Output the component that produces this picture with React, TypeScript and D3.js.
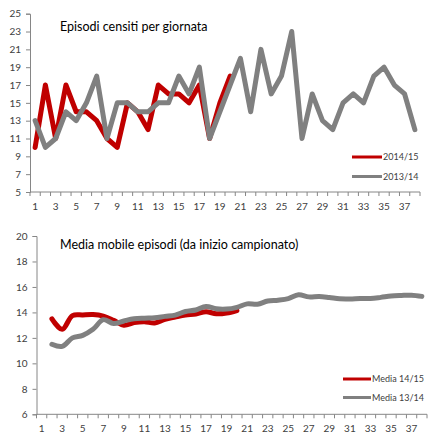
import React, { useEffect, useRef } from 'react';
import * as d3 from 'd3';

// giornate 1..38
const giornate = d3.range(1, 39);
const giornateLabels = giornate.filter(g => g % 2 === 1);

// episodi per giornata
const episodi1415 = [10, 17, 11, 17, 14, 14, 13, 11, 10, 15, 14, 12, 17, 16, 16, 15, 17, 11, 15, 18];
const episodi1314 = [13, 10, 11, 14, 13, 15, 18, 11, 15, 15, 14, 14, 15, 15, 18, 16, 19, 11, 14, 17,
  20, 14, 21, 16, 18, 23, 11, 16, 13, 12, 15, 16, 15, 18, 19, 17, 16, 12];

// media mobile (dalla giornata 2)
const media1415 = [13.5, 12.67, 13.75, 13.8, 13.83, 13.71, 13.38, 13.0, 13.2, 13.27, 13.17, 13.46,
  13.64, 13.8, 13.88, 14.06, 13.89, 13.95, 14.15];
const media1314 = [11.5, 11.33, 12.0, 12.2, 12.67, 13.43, 13.13, 13.33, 13.5, 13.55, 13.58, 13.69,
  13.79, 14.07, 14.19, 14.47, 14.28, 14.26, 14.4, 14.67, 14.64, 14.9, 14.96, 15.08, 15.38, 15.22,
  15.25, 15.17, 15.07, 15.06, 15.09, 15.09, 15.18, 15.29, 15.33, 15.35, 15.26];

const topTicks = [5, 7, 9, 11, 13, 15, 17, 19, 21, 23, 25];
const bottomTicks = [6, 8, 10, 12, 14, 16, 18, 20];

const RED = '#c00000';
const GREY = '#808080';
const AXIS = '#868686';
const TEXT = '#404040';
const FONT = 'Lato, "Open Sans", sans-serif';

const App = () => {
  const ref = useRef(null);

  useEffect(() => {
    const svg = d3.select(ref.current);
    svg.selectAll('*').remove();

    const drawPanel = (opts) => {
      const { left, right, top, bottom, yMin, yMax, yTicks, series, title, titleX, titleY, legend, curve } = opts;
      const g = svg.append('g');

      const x = d3.scaleBand().domain(giornate).range([left, right]);
      const xEdge = d3.scaleLinear().domain([0, giornate.length]).range([left, right]);
      const y = d3.scaleLinear().domain([yMin, yMax]).range([bottom, top]);

      // y axis
      const ya = g.append('g')
        .attr('transform', `translate(${left},0)`)
        .call(d3.axisLeft(y).tickValues(yTicks).tickSize(4).tickPadding(5));
      ya.select('.domain').attr('stroke', AXIS);
      ya.selectAll('.tick line').attr('stroke', AXIS);
      ya.selectAll('.tick text').attr('fill', TEXT).style('font-family', FONT).style('font-size', '10px');

      // x axis line + tick marks between categories
      g.append('line')
        .attr('x1', left).attr('x2', right).attr('y1', bottom).attr('y2', bottom)
        .attr('stroke', AXIS);
      g.selectAll('line.xt')
        .data(d3.range(0, giornate.length + 1))
        .join('line')
        .attr('class', 'xt')
        .attr('x1', d => xEdge(d)).attr('x2', d => xEdge(d))
        .attr('y1', bottom).attr('y2', bottom + 4)
        .attr('stroke', AXIS);
      g.selectAll('text.xl')
        .data(giornateLabels)
        .join('text')
        .attr('class', 'xl')
        .attr('x', d => x(d) + x.bandwidth() / 2)
        .attr('y', bottom + 18)
        .attr('text-anchor', 'middle')
        .attr('fill', TEXT)
        .style('font-family', FONT)
        .style('font-size', '10px')
        .text(d => d);

      // lines (grey on top)
      series.forEach(s => {
        const line = d3.line()
          .x((d, i) => x(giornate[i + s.start]) + x.bandwidth() / 2)
          .y(d => y(d))
          .curve(curve);
        g.append('path')
          .datum(s.values)
          .attr('d', line)
          .attr('fill', 'none')
          .attr('stroke', s.color)
          .attr('stroke-width', 5)
          .attr('stroke-linejoin', 'round')
          .attr('stroke-linecap', 'round');
      });

      // title
      g.append('text')
        .attr('x', titleX)
        .attr('y', titleY)
        .attr('fill', '#000')
        .style('font-family', FONT)
        .style('font-size', '12.5px')
        .text(title);

      // legend
      series.forEach((s, i) => {
        const ly = legend.y + i * legend.gap;
        g.append('line')
          .attr('x1', legend.x).attr('x2', legend.x + legend.len)
          .attr('y1', ly).attr('y2', ly)
          .attr('stroke', s.color).attr('stroke-width', 3);
        g.append('text')
          .attr('x', legend.x + legend.len + 1)
          .attr('y', ly + 3)
          .attr('fill', TEXT)
          .style('font-family', FONT)
          .style('font-size', '9px')
          .text(s.name);
      });
    };

    drawPanel({
      left: 30, right: 420, top: 13.7, bottom: 192,
      yMin: 5, yMax: 25, yTicks: topTicks,
      title: 'Episodi censiti per giornata', titleX: 60, titleY: 31,
      curve: d3.curveLinear,
      legend: { x: 352, y: 157, gap: 19.5, len: 30 },
      series: [
        { name: '2014/15', values: episodi1415, start: 0, color: RED },
        { name: '2013/14', values: episodi1314, start: 0, color: GREY },
      ],
    });

    drawPanel({
      left: 36.5, right: 427, top: 236, bottom: 414.3,
      yMin: 6, yMax: 20, yTicks: bottomTicks,
      title: 'Media mobile episodi (da inizio campionato)', titleX: 60, titleY: 249,
      curve: d3.curveCatmullRom,
      legend: { x: 343, y: 379, gap: 18.5, len: 28 },
      series: [
        { name: 'Media 14/15', values: media1415, start: 1, color: RED },
        { name: 'Media 13/14', values: media1314, start: 1, color: GREY },
      ],
    });
  }, []);

  return (
    <div style={{ position: 'absolute', left: 0, top: 0, background: '#fff' }}>
      <svg ref={ref} width="438" height="444"></svg>
    </div>
  );
};

export default App;
